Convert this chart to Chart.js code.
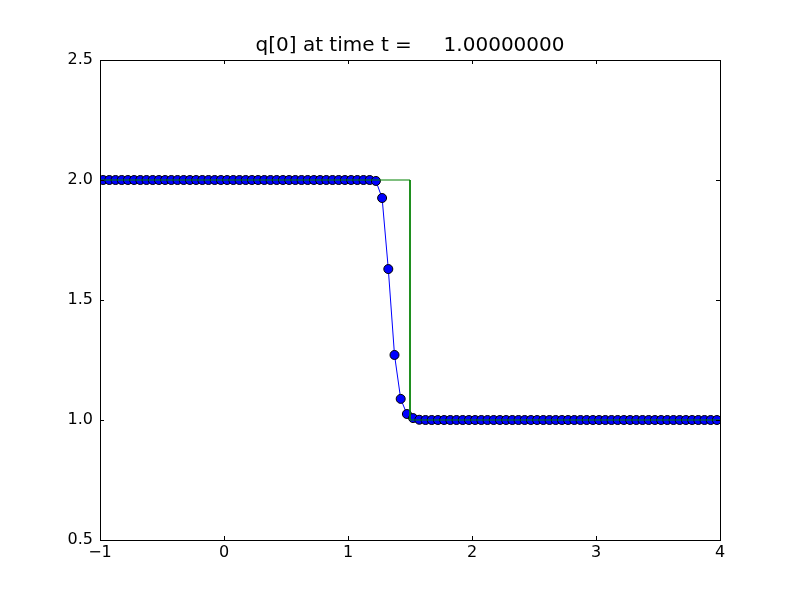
<!DOCTYPE html>
<html>
<head>
<meta charset="utf-8">
<script src="https://cdn.jsdelivr.net/npm/chart.js@4/dist/chart.umd.min.js"></script>
<style>
  body { margin: 0; background: #fff; }
  #plot { display: block; }
</style>
</head>
<body>
<canvas id="plot" width="800" height="600"></canvas>
<script>
// ===== Data =====
const titleText = "q[0] at time t =     1.00000000";

// cell centres
const xCells = [
  -0.975, -0.925, -0.875, -0.825, -0.775, -0.725, -0.675, -0.625, -0.575, -0.525,
  -0.475, -0.425, -0.375, -0.325, -0.275, -0.225, -0.175, -0.125, -0.075, -0.025,
  0.025, 0.075, 0.125, 0.175, 0.225, 0.275, 0.325, 0.375, 0.425, 0.475,
  0.525, 0.575, 0.625, 0.675, 0.725, 0.775, 0.825, 0.875, 0.925, 0.975,
  1.025, 1.075, 1.125, 1.175, 1.225, 1.275, 1.325, 1.375, 1.425, 1.475,
  1.525, 1.575, 1.625, 1.675, 1.725, 1.775, 1.825, 1.875, 1.925, 1.975,
  2.025, 2.075, 2.125, 2.175, 2.225, 2.275, 2.325, 2.375, 2.425, 2.475,
  2.525, 2.575, 2.625, 2.675, 2.725, 2.775, 2.825, 2.875, 2.925, 2.975,
  3.025, 3.075, 3.125, 3.175, 3.225, 3.275, 3.325, 3.375, 3.425, 3.475,
  3.525, 3.575, 3.625, 3.675, 3.725, 3.775, 3.825, 3.875, 3.925, 3.975
];

// computed q[0]
const qValues = [
  2, 2, 2, 2, 2, 2, 2, 2, 2, 2,
  2, 2, 2, 2, 2, 2, 2, 2, 2, 2,
  2, 2, 2, 2, 2, 2, 2, 2, 2, 2,
  2, 2, 2, 2, 2, 2, 2, 2, 2, 2,
  2, 2, 2, 2, 1.996, 1.925, 1.629, 1.271, 1.088, 1.025,
  1.008, 1.001, 1, 1, 1, 1, 1, 1, 1, 1,
  1, 1, 1, 1, 1, 1, 1, 1, 1, 1,
  1, 1, 1, 1, 1, 1, 1, 1, 1, 1,
  1, 1, 1, 1, 1, 1, 1, 1, 1, 1,
  1, 1, 1, 1, 1, 1, 1, 1, 1, 1
];

// exact solution (step)
const exactX = [-1, 1.5, 1.5, 4];
const exactQ = [2, 2, 1, 1];

const xTicks = [-1, 0, 1, 2, 3, 4];
const yTicks = [0.5, 1.0, 1.5, 2.0, 2.5];

// ===== Plugins =====
const FONT = "DejaVu Sans";

// white background + frame + inward ticks on all sides
const framePlugin = {
  id: "frame",
  beforeDraw(chart) {
    const ctx = chart.ctx;
    ctx.save();
    ctx.fillStyle = "#fff";
    ctx.fillRect(0, 0, chart.width, chart.height);
    ctx.restore();
  },
  afterDraw(chart) {
    const { ctx, chartArea: a, scales } = chart;
    ctx.save();
    ctx.strokeStyle = "#000";
    ctx.lineWidth = 1;
    ctx.beginPath();
    xTicks.forEach(v => {
      const px = Math.round(scales.x.getPixelForValue(v)) + 0.5;
      ctx.moveTo(px, a.bottom); ctx.lineTo(px, a.bottom - 4);
      ctx.moveTo(px, a.top); ctx.lineTo(px, a.top + 4);
    });
    yTicks.forEach(v => {
      const py = Math.round(scales.y.getPixelForValue(v)) + 0.5;
      ctx.moveTo(a.left, py); ctx.lineTo(a.left + 4, py);
      ctx.moveTo(a.right, py); ctx.lineTo(a.right - 4, py);
    });
    ctx.stroke();
    ctx.strokeRect(Math.round(a.left) + 0.5, Math.round(a.top) + 0.5,
      Math.round(a.right - a.left), Math.round(a.bottom - a.top));
    // title
    ctx.fillStyle = "#000";
    ctx.font = "20px '" + FONT + "'";
    ctx.textAlign = "center";
    ctx.textBaseline = "alphabetic";
    ctx.fillText(titleText, (a.left + a.right) / 2, a.top - 9);
    ctx.restore();
  }
};

// ===== Chart =====
const ctx = document.getElementById("plot").getContext("2d");

new Chart(ctx, {
  type: "line",
  data: {
    datasets: [
      {
        label: "exact",
        data: exactX.map((x, i) => ({ x: x, y: exactQ[i] })),
        borderColor: "#008000",
        borderWidth: 1,
        pointRadius: 0,
        tension: 0,
        order: 0
      },
      {
        label: "q[0]",
        data: xCells.map((x, i) => ({ x: x, y: qValues[i] })),
        borderColor: "#0000ff",
        borderWidth: 1,
        pointRadius: 4.5,
        pointBorderWidth: 1,
        pointBackgroundColor: "#0000ff",
        pointBorderColor: "#000",
        tension: 0,
        order: 1
      }
    ]
  },
  options: {
    responsive: false,
    animation: false,
    layout: { padding: { left: 0, right: 80, top: 60, bottom: 0 } },
    plugins: {
      legend: { display: false },
      title: { display: false },
      tooltip: { enabled: false }
    },
    scales: {
      x: {
        type: "linear",
        min: -1,
        max: 4,
        afterFit: s => { s.height = 60; },
        afterBuildTicks: s => { s.ticks = xTicks.map(v => ({ value: v })); },
        grid: { display: false, drawTicks: false },
        border: { display: false },
        ticks: {
          color: "#000",
          padding: 3,
          font: { family: FONT, size: 16 },
          maxRotation: 0,
          callback: v => String(v).replace("-", "\u2212")
        }
      },
      y: {
        type: "linear",
        min: 0.5,
        max: 2.5,
        afterFit: s => { s.width = 100; },
        afterBuildTicks: s => { s.ticks = yTicks.map(v => ({ value: v })); },
        grid: { display: false, drawTicks: false },
        border: { display: false },
        ticks: {
          color: "#000",
          padding: 7,
          font: { family: FONT, size: 16 },
          callback: v => Number(v).toFixed(1)
        }
      }
    }
  },
  plugins: [framePlugin]
});
</script>
</body>
</html>
